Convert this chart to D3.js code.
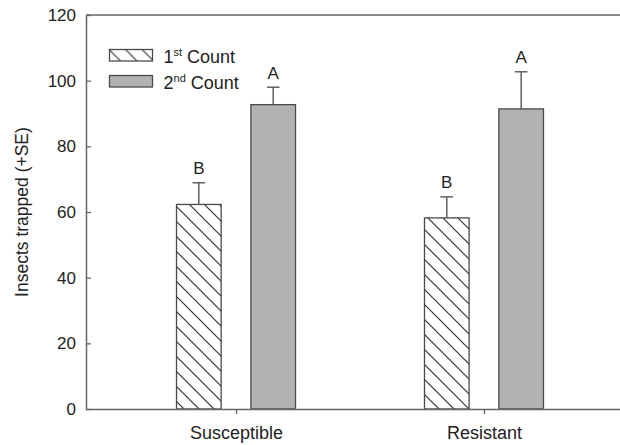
<!DOCTYPE html>
<html>
<head>
<meta charset="utf-8">
<script src="https://cdn.jsdelivr.net/npm/d3@7"></script>
<style>
  html, body { margin: 0; padding: 0; background: #fff; }
  svg { display: block; font-family: Arial, "Liberation Sans", sans-serif; }
</style>
</head>
<body>
<svg id="chart" width="620" height="445"></svg>
<script>
// ---- data ----
const categories = ["Susceptible", "Resistant"];
const seriesNames = ["1st Count", "2nd Count"];
const firstCount = [62.3, 58.2];
const firstSE = [6.6, 6.4];
const secondCount = [92.7, 91.4];
const secondSE = [5.3, 11.3];
const firstLetters = ["B", "B"];
const secondLetters = ["A", "A"];
const yTicks = [0, 20, 40, 60, 80, 100, 120];

const rows = [];
categories.forEach((c, i) => {
  rows.push({cat: c, series: "first", value: firstCount[i], se: firstSE[i], letter: firstLetters[i]});
  rows.push({cat: c, series: "second", value: secondCount[i], se: secondSE[i], letter: secondLetters[i]});
});

const svg = d3.select("#chart");
const pLeft = 86, pTop = 15, pBottom = 409, pRight = 634;

const x = d3.scalePoint().domain(categories).range([pLeft, pRight]).padding(0.605);
const xs = d3.scaleBand().domain(["first", "second"]).range([-59.5, 59.5]).paddingInner(0.4);
const y = d3.scaleLinear().domain([0, 120]).range([pBottom, pTop]);

const defs = svg.append("defs");
const pat = defs.append("pattern")
  .attr("id", "hatch").attr("patternUnits", "userSpaceOnUse")
  .attr("width", 15).attr("height", 15);
pat.append("path")
  .attr("d", "M0,0 L15,15 M-3.75,11.25 L3.75,18.75 M11.25,-3.75 L18.75,3.75")
  .attr("stroke", "#333").attr("stroke-width", 1.2).attr("fill", "none");
const pat2 = defs.append("pattern")
  .attr("id", "hatchL").attr("patternUnits", "userSpaceOnUse")
  .attr("width", 16.5).attr("height", 16.5).attr("x", 109);
pat2.append("path")
  .attr("d", "M0,0 L16.5,16.5 M-4,12.5 L4,20.5 M12.5,-4 L20.5,4")
  .attr("stroke", "#333").attr("stroke-width", 1.2).attr("fill", "none");

const fillFor = s => s === "first" ? "url(#hatch)" : "#b2b2b2";

// top frame line
svg.append("line").attr("x1", pLeft).attr("x2", pRight).attr("y1", pTop).attr("y2", pTop)
  .attr("stroke", "#666").attr("stroke-width", 1.5);

// bars
svg.append("g").selectAll("rect").data(rows).join("rect")
  .attr("x", d => x(d.cat) + xs(d.series))
  .attr("width", xs.bandwidth())
  .attr("y", d => y(d.value))
  .attr("height", d => y(0) - y(d.value))
  .attr("fill", d => fillFor(d.series))
  .attr("stroke", "#4a4a4a").attr("stroke-width", 1.3);

// error bars
const eb = svg.append("g").attr("stroke", "#555").attr("stroke-width", 1.4);
eb.selectAll("line.v").data(rows).join("line").attr("class", "v")
  .attr("x1", d => x(d.cat) + xs(d.series) + xs.bandwidth() / 2)
  .attr("x2", d => x(d.cat) + xs(d.series) + xs.bandwidth() / 2)
  .attr("y1", d => y(d.value)).attr("y2", d => y(d.value + d.se));
eb.selectAll("line.h").data(rows).join("line").attr("class", "h")
  .attr("x1", d => x(d.cat) + xs(d.series) + xs.bandwidth() / 2 - 6.3)
  .attr("x2", d => x(d.cat) + xs(d.series) + xs.bandwidth() / 2 + 6.3)
  .attr("y1", d => y(d.value + d.se)).attr("y2", d => y(d.value + d.se));

// letters
svg.append("g").selectAll("text").data(rows).join("text")
  .attr("x", d => x(d.cat) + xs(d.series) + xs.bandwidth() / 2)
  .attr("y", d => y(d.value + d.se) - 8.5)
  .attr("text-anchor", "middle")
  .attr("font-size", 17).attr("fill", "#222")
  .text(d => d.letter);

// y axis
const yAxis = svg.append("g").attr("transform", `translate(${pLeft},0)`)
  .call(d3.axisLeft(y).tickValues(yTicks).tickSize(-5).tickPadding(10).tickSizeOuter(0));
yAxis.select(".domain").attr("stroke", "#666").attr("stroke-width", 1.5);
yAxis.selectAll(".tick line").attr("stroke", "#666").attr("stroke-width", 1.3);
yAxis.selectAll(".tick text").attr("font-size", 17).attr("fill", "#222")
  .attr("font-family", "Arial, 'Liberation Sans', sans-serif");

// x axis
const xAxis = svg.append("g").attr("transform", `translate(0,${pBottom})`)
  .call(d3.axisBottom(x).tickSize(5).tickPadding(12).tickSizeOuter(0));
xAxis.select(".domain").attr("stroke", "#666").attr("stroke-width", 1.5)
  .attr("d", `M${pLeft},0.5H${pRight}`);
xAxis.selectAll(".tick line").attr("stroke", "#666").attr("stroke-width", 1.3);
xAxis.selectAll(".tick text").attr("font-size", 18).attr("fill", "#222")
  .attr("font-family", "Arial, 'Liberation Sans', sans-serif");

// y title
svg.append("text")
  .attr("transform", `translate(28,${(pTop + pBottom) / 2}) rotate(-90)`)
  .attr("text-anchor", "middle").attr("font-size", 17.5).attr("fill", "#222")
  .text("Insects trapped (+SE)");

// legend
const legend = svg.append("g");
const legRows = [
  {series: "first", y: 49.5, base: "1", sup: "st"},
  {series: "second", y: 75.5, base: "2", sup: "nd"}
];
legend.selectAll("rect").data(legRows).join("rect")
  .attr("x", 109.5).attr("y", d => d.y).attr("width", 43).attr("height", 11.5)
  .attr("fill", d => d.series === "first" ? "url(#hatchL)" : "#b2b2b2")
  .attr("stroke", "#4a4a4a").attr("stroke-width", 1.3);
const lt = legend.selectAll("text").data(legRows).join("text")
  .attr("x", 163.5).attr("y", d => d.y + 13.5)
  .attr("font-size", 18).attr("fill", "#222");
lt.append("tspan").text(d => d.base);
lt.append("tspan").attr("font-size", 11).attr("dy", -7).text(d => d.sup);
lt.append("tspan").attr("dy", 7).text(" Count");
</script>
</body>
</html>
